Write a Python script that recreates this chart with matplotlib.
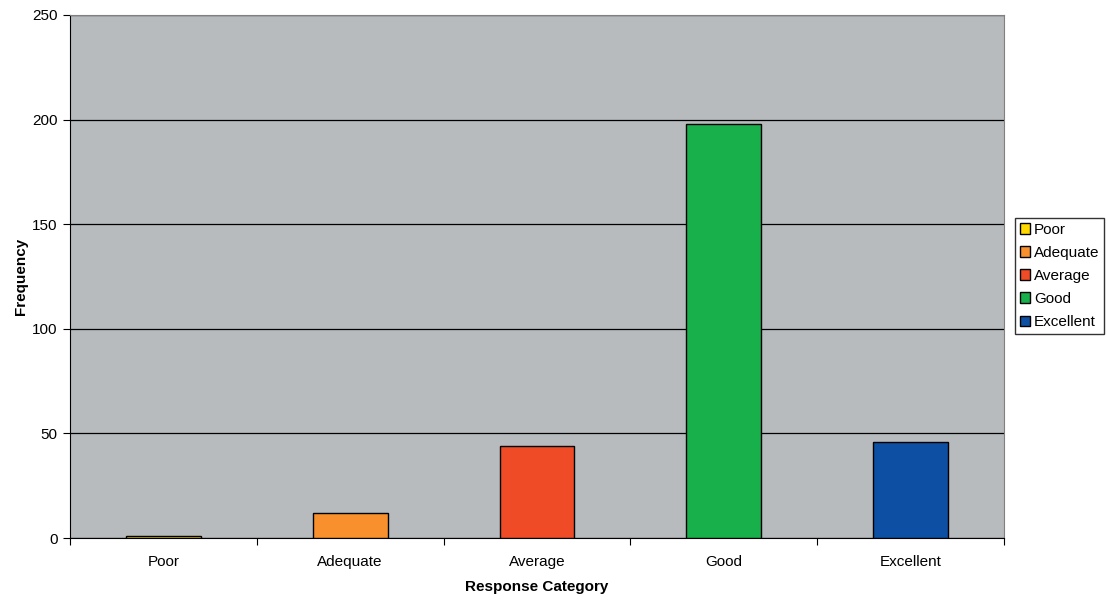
import matplotlib
matplotlib.use("Agg")
import matplotlib.pyplot as plt
import numpy as np

categories = ["Poor", "Adequate", "Average", "Good", "Excellent"]
values = [1, 12, 44, 198, 46]
colors = ["#FFD800", "#F7902D", "#EF4B26", "#17B04B", "#0D4FA3"]
yticks = [0, 50, 100, 150, 200, 250]

plt.rcParams['font.family'] = ['Liberation Sans', 'DejaVu Sans']
fig = plt.figure(figsize=(11.07, 6.01), dpi=100)
ax = fig.add_axes([70/1107, 63/601, 934/1107, 523/601])
ax.set_facecolor("#B7BBBE")
x = np.arange(len(categories))
bars = ax.bar(x, values, width=0.4, color=colors, edgecolor="black", linewidth=1, zorder=3)
ax.set_xlim(-0.5, 4.5)
ax.set_ylim(0, 250)
ax.set_yticks(yticks)
ax.yaxis.grid(True, color="black", linewidth=0.9, zorder=1)
ax.set_axisbelow(True)
ax.set_xticks(np.arange(-0.5, 5, 1))
ax.set_xticklabels([])
ax.set_xticks(x, minor=True)
ax.set_xticklabels(categories, minor=True, fontsize=11)
ax.tick_params(axis='x', which='minor', length=0, pad=12)
ax.tick_params(axis='x', which='major', length=5, direction='out', color='black')
ax.tick_params(axis='y', length=5, direction='out', labelsize=11, pad=4)
for s in ["top", "right"]:
    ax.spines[s].set_color("#808080")
ax.spines["left"].set_color("black")
ax.spines["bottom"].set_color("black")
ax.set_xlabel("Response Category", fontsize=11, fontweight="bold", labelpad=8)
ax.set_ylabel("Frequency", fontsize=11, fontweight="bold", labelpad=3)
leg = fig.legend(handles=list(bars), labels=categories, loc="upper left",
                 bbox_to_anchor=(1015/1107, 1 - 218/601), fontsize=11, frameon=True,
                 fancybox=False, edgecolor="black", handlelength=0.7, handleheight=0.7,
                 handletextpad=0.25, borderpad=0.3, labelspacing=0.6, borderaxespad=0)
leg.get_frame().set_linewidth(1)
fig.savefig("out.png", dpi=100)
